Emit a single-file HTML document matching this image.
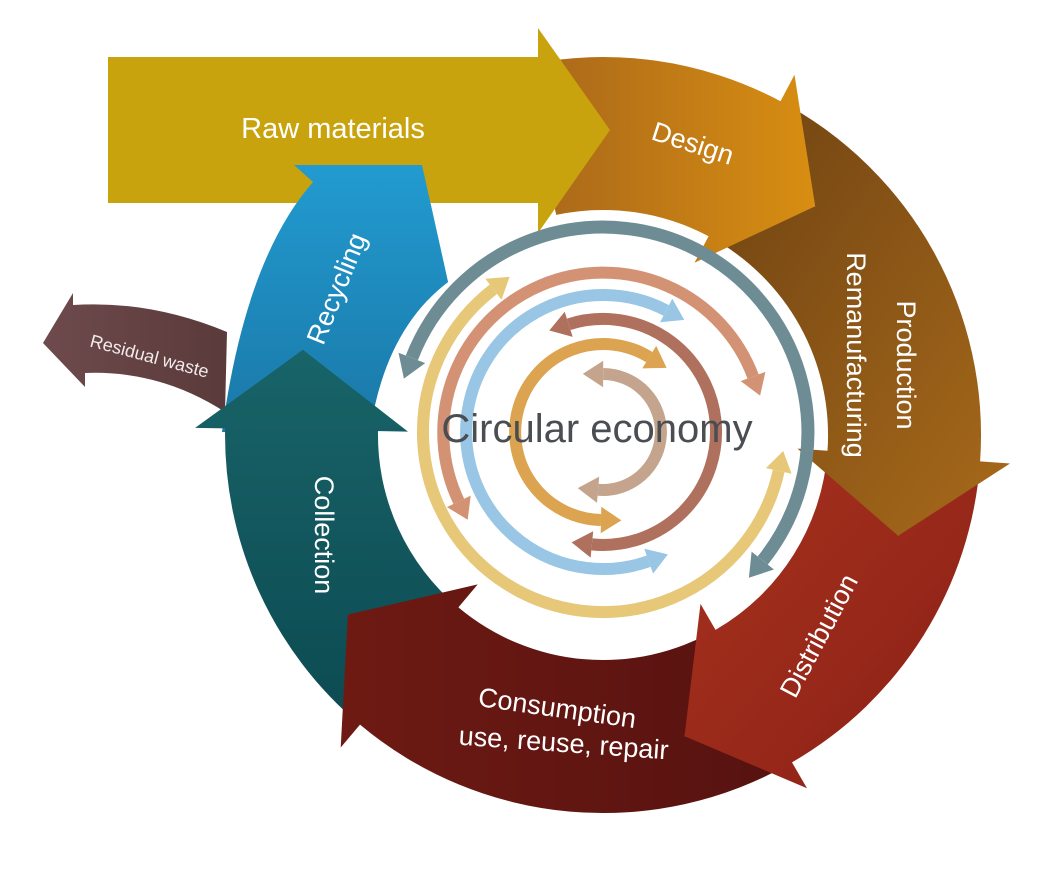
<!DOCTYPE html>
<html><head><meta charset="utf-8"><style>
html,body{margin:0;padding:0;background:#fff;width:1051px;height:872px;overflow:hidden}
svg{display:block}
text{font-family:"Liberation Sans",sans-serif}
</style></head><body>
<svg id="s" width="1051" height="872" viewBox="0 0 1051 872" xmlns="http://www.w3.org/2000/svg">
<defs>
<linearGradient id="gDes" x1="0" y1="0" x2="1" y2="0"><stop offset="0" stop-color="#a8661a"/><stop offset="1" stop-color="#d88e12"/></linearGradient>
<linearGradient id="gPro" x1="0" y1="0" x2="1" y2="1"><stop offset="0" stop-color="#6e4213"/><stop offset="1" stop-color="#a86a1a"/></linearGradient>
<linearGradient id="gDis" x1="0" y1="0" x2="1" y2="1"><stop offset="0" stop-color="#a8321e"/><stop offset="1" stop-color="#8a2016"/></linearGradient>
<linearGradient id="gCon" x1="0" y1="0" x2="1" y2="0"><stop offset="0" stop-color="#6e1a13"/><stop offset="1" stop-color="#561210"/></linearGradient>
<linearGradient id="gCol" x1="0" y1="0" x2="0" y2="1"><stop offset="0" stop-color="#186468"/><stop offset="1" stop-color="#0c4a52"/></linearGradient>
<linearGradient id="gRec" x1="0" y1="0" x2="0" y2="1"><stop offset="0" stop-color="#229bd0"/><stop offset="1" stop-color="#1a78a8"/></linearGradient>
<linearGradient id="gRes" x1="0" y1="0" x2="1" y2="0"><stop offset="0" stop-color="#6e4a4c"/><stop offset="1" stop-color="#5a3a3a"/></linearGradient>
<clipPath id="topclip"><rect x="0" y="0" width="1051" height="300"/></clipPath>
</defs>
<g id="ring"></g>
<g id="inner"></g>
<g id="labels" fill="#fff">
<text x="333" y="138" font-size="29" text-anchor="middle">Raw materials</text>
<text transform="translate(690,152) rotate(18)" font-size="27" text-anchor="middle">Design</text>
<text transform="translate(897,365) rotate(90)" font-size="27" text-anchor="middle">Production</text>
<text transform="translate(847,355) rotate(90)" font-size="27" text-anchor="middle">Remanufacturing</text>
<text transform="translate(827,640) rotate(-62)" font-size="27" text-anchor="middle">Distribution</text>
<text transform="translate(556,717) rotate(8)" font-size="27" text-anchor="middle">Consumption</text>
<text transform="translate(563,752) rotate(4)" font-size="27" text-anchor="middle">use, reuse, repair</text>
<text transform="translate(315,535) rotate(90)" font-size="27" text-anchor="middle">Collection</text>
<text transform="translate(345,292) rotate(-68)" font-size="27" text-anchor="middle">Recycling</text>
<text transform="translate(148,362) rotate(15)" font-size="18" text-anchor="middle" fill="#f2eaea">Residual waste</text>
</g>
<text x="597" y="442" font-size="40" text-anchor="middle" fill="#4a4d52">Circular economy</text>
</svg>
<script>
(function(){
var NS="http://www.w3.org/2000/svg";
var cx=603,cy=435,ri=225,ro=378,rm=(ri+ro)/2,E=30,L=80;
function P(r,a){a=a*Math.PI/180;return [cx+r*Math.cos(a),cy+r*Math.sin(a)];}
function T(a){a=a*Math.PI/180;return [-Math.sin(a),Math.cos(a)];}
function f(p){return p[0].toFixed(1)+" "+p[1].toFixed(1);}
function add(g,tag,attrs){var e=document.createElementNS(NS,tag);for(var k in attrs)e.setAttribute(k,attrs[k]);g.appendChild(e);return e;}
function seg(a0,a1,fill,notch){
  var t1=T(a1),m1=P(rm,a1),tip=[m1[0]+L*t1[0],m1[1]+L*t1[1]];
  var t0=T(a0),m0=P(rm,a0),nt=[m0[0]+L*t0[0],m0[1]+L*t0[1]];
  var lg=(a1-a0)>180?1:0;
  var d="M"+f(P(ro,a0))+" A"+ro+" "+ro+" 0 "+lg+" 1 "+f(P(ro,a1))+" L"+f(P(ro+E,a1))+" L"+f(tip)+" L"+f(P(ri-E,a1))+" L"+f(P(ri,a1))+" A"+ri+" "+ri+" 0 "+lg+" 0 "+f(P(ri,a0));
  if(notch)d+=" L"+f(nt);
  d+=" Z";
  return d;
}
var g=document.getElementById("ring");
add(g,"path",{d:"M227 332 Q150 300 73 305 L73 293 L43 343 L85 387 L85 373 Q160 370 225 412 Z",fill:"url(#gRes)"});
var recD="M294 165 L313 182 Q245 260 222 432 L370 432 Q385 330 448 282 L422 165 Z";
add(g,"path",{d:recD,fill:"url(#gRec)"});
add(g,"path",{d:seg(130,181,"",true),fill:"url(#gCol)"});
add(g,"path",{d:seg(60,130,"",true),fill:"url(#gCon)"});
add(g,"path",{d:seg(4,60,"",true),fill:"url(#gDis)"});
add(g,"path",{d:seg(-62,4,"",true),fill:"url(#gPro)"});
add(g,"path",{d:seg(-102,-62,"",false),fill:"url(#gDes)"});
add(g,"path",{d:"M108 57 L538 57 L538 28 L610 130 L538 233 L538 203 L108 203 Z",fill:"#c9a30e"});
add(g,"path",{d:recD,fill:"url(#gRec)","clip-path":"url(#topclip)"});

var gi=document.getElementById("inner");
var icx=603,icy=432;
function IP(r,a){a=a*Math.PI/180;return [icx+r*Math.cos(a),icy+r*Math.sin(a)];}
function arcArrow(r,a0,a1,w,col){
  var hl=w*1.7,hw=w*1.1;
  var da=(hl/r)*180/Math.PI;
  var b0=a0+da,b1=a1-da;
  var lg=(b1-b0)>180?1:0;
  add(gi,"path",{d:"M"+f(IP(r,b0))+" A"+r+" "+r+" 0 "+lg+" 1 "+f(IP(r,b1)),fill:"none",stroke:col,"stroke-width":w});
  [[b1,a1,1],[b0,a0,-1]].forEach(function(h){
    var base=IP(r,h[0]);var ta=T(h[0]);var dir=[ta[0]*h[2],ta[1]*h[2]];
    var ra=h[0]*Math.PI/180,rad=[Math.cos(ra),Math.sin(ra)];
    var p1=[base[0]+rad[0]*hw,base[1]+rad[1]*hw],p2=[base[0]-rad[0]*hw,base[1]-rad[1]*hw];
    var tp=[base[0]+dir[0]*hl,base[1]+dir[1]*hl];
    add(gi,"path",{d:"M"+f(p1)+" L"+f(tp)+" L"+f(p2)+" Z",fill:col});
  });
}
arcArrow(205,195,405,13,"#6e8c94");
arcArrow(180,6,239,12,"#e6c878");
arcArrow(160,147,347,12,"#d49274");
arcArrow(137,62,306,12,"#98c6e4");
arcArrow(113,-118,106,12,"#b0705e");
arcArrow(88,78,315,12,"#dca450");
arcArrow(58,-110,115,12,"#c4a48c");
})();
</script>
</body></html>
